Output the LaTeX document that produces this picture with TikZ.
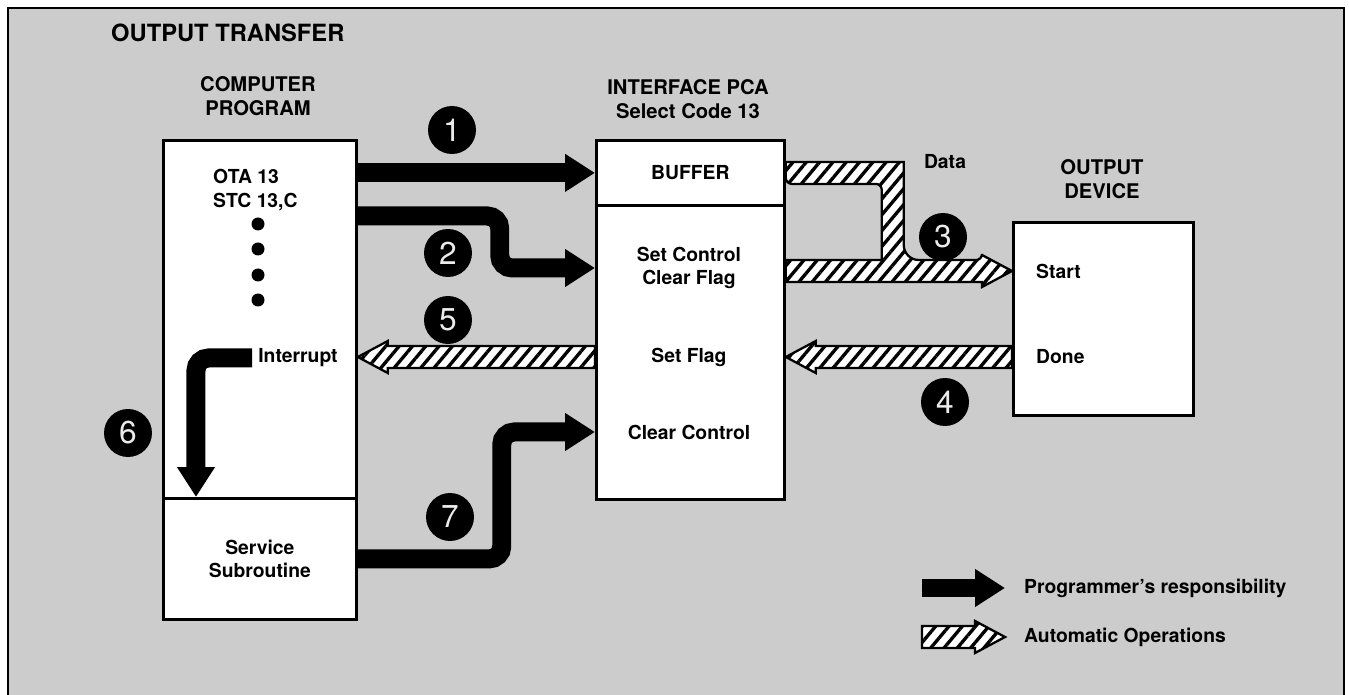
\documentclass[tikz,border=0pt]{standalone}
\usepackage{fontspec}
\setmainfont{TeX Gyre Heros}
\usetikzlibrary{arrows.meta,calc,patterns.meta}

% hatched arrow: tail, tip, direction (1 right, -1 left)
\newcommand\hatcharrow[3]{%
  \path[hatch] let \p1=(#1), \p2=(#2) in
    (\x1,{\y2+.22cm}) -- ({\x2-(#3)*.6cm},{\y2+.22cm}) -- ({\x2-(#3)*.6cm},{\y2+.32cm})
    -- (\x2,\y2) -- ({\x2-(#3)*.6cm},{\y2-.32cm}) -- ({\x2-(#3)*.6cm},{\y2-.22cm})
    -- (\x1,{\y2-.22cm}) -- cycle;}

\begin{document}
\begin{tikzpicture}[
    x=.02cm,y=-.02cm,
    box/.style={draw,line width=1.6pt,fill=white,inner sep=0pt,align=center,
      font=\fontsize{11}{13.5}\selectfont\bfseries},
    lbl/.style={font=\fontsize{11}{13.5}\selectfont\bfseries,align=center},
    hd/.style={font=\fontsize{11.5}{14}\selectfont\bfseries,align=center},
    num/.style={circle,fill=black,text=white!92!black,minimum size=.96cm,inner sep=0pt,
      font=\fontsize{18}{18}\selectfont},
    prog/.style={line width=.38cm,-{Triangle[length=.6cm,width=.72cm]},rounded corners=.25cm},
    hatch/.style={draw=black,line width=1.3pt,preaction={fill=white},
      pattern={Lines[angle=50,distance=5.8pt,line width=1.9pt]}}
  ]
  \useasboundingbox (0,0) rectangle (1349,695);
  \draw[line width=1.6pt,fill=black!20] (8,8) rectangle (1344,710);

  \node[anchor=west,font=\fontsize{13.5}{16}\selectfont\bfseries] (title) at (105,33) {OUTPUT TRANSFER};

  % boxes
  \node[box,minimum width=3.86cm,minimum height=7.16cm,anchor=north west] (cp) at (162,139) {};
  \node[box,minimum width=3.86cm,minimum height=2.42cm,anchor=north west] (svc) at (162,497) {Service\\Subroutine};
  \node[box,minimum width=3.76cm,minimum height=1.3cm,anchor=north west] (buf) at (595,139) {BUFFER};
  \node[box,minimum width=3.76cm,minimum height=5.88cm,anchor=north west] (ctl) at (595,204) {};
  \node[box,minimum width=3.6cm,minimum height=3.86cm,anchor=north west] (dev) at (1012,221) {};

  \node[hd] (cphd) at (258,96) {COMPUTER\\PROGRAM};
  \node[hd] (ifhd) at (688,99) {INTERFACE PCA\\Select Code 13};
  \node[hd] (devhd) at (1102,179) {OUTPUT\\DEVICE};

  \node[lbl,align=left,anchor=west] (ota) at (207,190) {OTA 13\\STC 13,C};
  \foreach \y in {224,249,275,300} {\fill (258,\y) circle (.13cm);}
  \node[lbl] (intr) at (298,358) {Interrupt};
  \node[lbl] (setctl) at (689,268) {Set Control\\Clear Flag};
  \node[lbl] (setflag) at (689,357) {Set Flag};
  \node[lbl] (clrctl) at (689,432) {Clear Control};
  \node[lbl,anchor=west] (start) at (1030,271) {Start};
  \node[lbl,anchor=west] (done) at (1030,357) {Done};
  \node[lbl] (data) at (945,162) {Data};

  % programmer's arrows
  \draw[prog] (cp.east |- buf) -- (buf.west);
  \draw[prog] ([yshift=-1.54cm]cp.north east) -- ++(2.84cm,0) |- (ctl.west |- setctl);
  \draw[prog] (intr.west) -| ([xshift=.68cm]svc.north west);
  \draw[prog] (svc.east) -- ++(2.88cm,0) |- (ctl.west |- clrctl);

  % automatic operations
  \path[hatch] let \p1=(buf.east), \p2=(dev.west |- start), \p3=($(buf.east)+(2.14cm,0)$) in
    (\x1,{\y1+.22cm}) -- ({\x3+.22cm},{\y1+.22cm}) [rounded corners=.3cm] -- ({\x3+.22cm},{\y2+.22cm})
    [rounded corners=.12cm] -- ({\x2-.6cm},{\y2+.22cm}) [sharp corners] -- ({\x2-.6cm},{\y2+.32cm})
    -- (\x2,\y2) -- ({\x2-.6cm},{\y2-.32cm}) -- ({\x2-.6cm},{\y2-.22cm}) -- (\x1,{\y2-.22cm})
    -- (\x1,{\y2+.22cm}) -- ({\x3-.22cm},{\y2+.22cm}) [rounded corners=.12cm] -- ({\x3-.22cm},{\y1-.22cm})
    -- (\x1,{\y1-.22cm}) [sharp corners] -- cycle;
  \hatcharrow{ctl.west |- setflag}{cp.east |- setflag}{-1}
  \hatcharrow{dev.west |- done}{ctl.east |- done}{-1}

  % step numbers
  \node[num] (n1) at (452,130) {1};
  \node[num] (n2) at (448,253) {2};
  \node[num] (n3) at (943,237) {3};
  \node[num] (n4) at (945,402) {4};
  \node[num] (n5) at (448,320) {5};
  \node[num] (n6) at (128,433) {6};
  \node[num] (n7) at (450,517) {7};

  % legend
  \node[lbl,anchor=west] (lprog) at (1018,588) {Programmer's responsibility};
  \node[lbl,anchor=west] (lauto) at (1018,637) {Automatic Operations};
  \coordinate (lp) at (922,588);
  \coordinate (la) at (922,637);
  \draw[prog] (lp) -- ([xshift=-.26cm]lprog.west);
  \hatcharrow{la}{[xshift=-.26cm]lauto.west}{1}
\end{tikzpicture}
\end{document}
